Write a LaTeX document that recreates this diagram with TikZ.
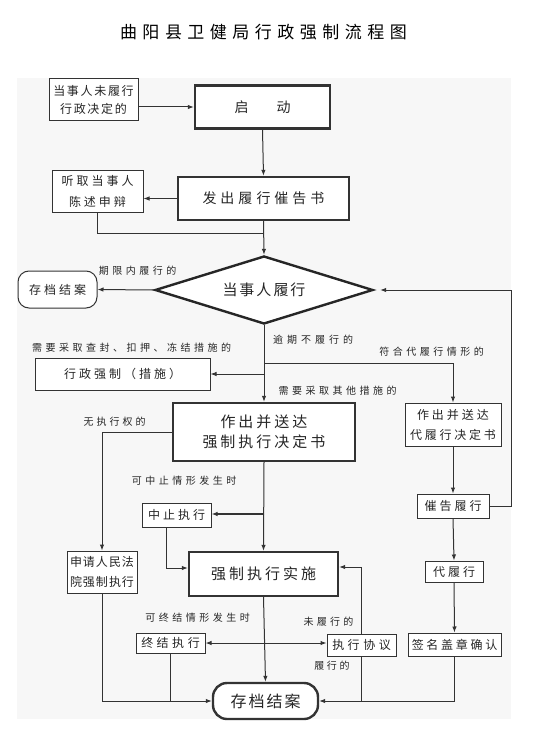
\documentclass[tikz,border=0pt]{standalone}
\usepackage{fontspec}
\setmainfont{Noto Sans CJK SC}
\usetikzlibrary{arrows.meta,shapes.geometric}
\newcommand\spc[2]{\def\cjkgap{#1}\spcA#2\relax}
\def\spcA#1{#1\spcB}
\def\spcB#1{\ifx#1\relax\else\hskip\cjkgap\relax#1\expandafter\spcB\fi}
\tikzset{
  box/.style={draw=black!80, line width=1pt, inner sep=0pt, fill=white, text=black!85,
    font=\fontsize{12}{20}\selectfont, align=center},
  tbox/.style={box, line width=2.4pt, font=\fontsize{15}{20}\selectfont},
  lbl/.style={text=black!85, font=\fontsize{10}{12}\selectfont, inner sep=0pt},
  arr/.style={draw=black!80, line width=1pt, -{Latex[length=6pt,width=4.5pt]}},
  arrtwo/.style={draw=black!80, line width=1pt, {Latex[length=6pt,width=4.5pt]}-{Latex[length=6pt,width=4.5pt]}},
  ln/.style={draw=black!80, line width=1pt},
}
\begin{document}
\begin{tikzpicture}[x=1pt,y=-1pt]
\useasboundingbox (0,0) rectangle (556,741);
\fill[white] (0,0) rectangle (556,741);
\fill[black!3] (17,78) rectangle (511,719);

\node[font=\fontsize{17}{20}\selectfont, text=black] (title) at (263.5,32) {\spc{5.5pt}{曲阳县卫健局行政强制流程图}};

% nodes
\node[box, minimum width=89pt, minimum height=42pt, font=\fontsize{12}{18}\selectfont] (b1) at (93.5,100)
  {\spc{1.7pt}{当事人未履行}\\\spc{1.7pt}{行政决定的}};
\node[tbox, minimum width=135pt, minimum height=43pt, font=\fontsize{14}{20}\selectfont] (start) at (262.5,107) {启\hspace{28pt}动};
\node[tbox, minimum width=171pt, minimum height=43pt, font=\fontsize{14}{20}\selectfont] (warn) at (263.5,198.5) {\spc{4pt}{发出履行催告书}};
\node[box, minimum width=91pt, minimum height=42pt, font=\fontsize{12}{21}\selectfont] (hear) at (97.5,191)
  {\spc{3pt}{听取当事人}\\\spc{3pt}{陈述申辩}};
\node[draw=black!85, line width=2.4pt, diamond, shape aspect=3.2, minimum width=218pt, minimum height=68pt,
  inner sep=0pt, fill=white, text=black!85, font=\fontsize{15}{20}\selectfont] (dia) at (264,290) {\spc{2pt}{当事人履行}};
\node[box, rounded corners=11pt, minimum width=79pt, minimum height=37pt] (arch1) at (57.5,289.5) {\spc{3pt}{存档结案}};
\node[box, minimum width=175pt, minimum height=32pt] (measure) at (122.5,374) {\spc{3pt}{行政强制（措施）}};
\node[tbox, minimum width=182pt, minimum height=58pt] (decide) at (264,432)
  {\spc{3pt}{作出并送达}\\\spc{3pt}{强制执行决定书}};
\node[box, minimum width=96pt, minimum height=43pt] (subst) at (453,424.5)
  {\spc{3pt}{作出并送达}\\\spc{2.8pt}{代履行决定书}};
\node[box, minimum width=72pt, minimum height=24pt] (urge) at (453,506) {\spc{3pt}{催告履行}};
\node[box, minimum width=58pt, minimum height=21pt] (dai) at (454,571.5) {\spc{3pt}{代履行}};
\node[box, minimum width=93pt, minimum height=23pt] (sign) at (454.5,644.5) {\spc{2.7pt}{签名盖章确认}};
\node[box, minimum width=70pt, minimum height=42pt] (court) at (102,572)
  {\spc{1pt}{申请人民法}\\\spc{1pt}{院强制执行}};
\node[box, minimum width=69pt, minimum height=24pt] (suspend) at (176.5,515) {\spc{3pt}{中止执行}};
\node[tbox, minimum width=149pt, minimum height=44pt] (impl) at (263.5,574) {\spc{3pt}{强制执行实施}};
\node[box, minimum width=69pt, minimum height=20pt] (term) at (170.5,643) {\spc{3.5pt}{终结执行}};
\node[box, minimum width=69pt, minimum height=22pt] (agree) at (361.5,645) {\spc{3.5pt}{执行协议}};
\node[tbox, rounded corners=14pt, minimum width=105pt, minimum height=36pt, font=\fontsize{16}{20}\selectfont] (arch2) at (265.5,701) {\spc{2pt}{存档结案}};

% labels
\node[lbl] (l1) at (137.5,271) {\spc{3.5pt}{期限内履行的}};
\node[lbl] (l2) at (313,340) {\spc{4pt}{逾期不履行的}};
\node[lbl] (l3) at (431.5,352) {\spc{3.5pt}{符合代履行情形的}};
\node[lbl] (l4) at (131.5,348) {\spc{3.5pt}{需要采取查封、扣押、冻结措施的}};
\node[lbl] (l5) at (337.5,391) {\spc{3.5pt}{需要采取其他措施的}};
\node[lbl] (l6) at (114.5,422) {\spc{3pt}{无执行权的}};
\node[lbl] (l7) at (184,481) {\spc{3.5pt}{可中止情形发生时}};
\node[lbl] (l8) at (197.5,618) {\spc{3.5pt}{可终结情形发生时}};
\node[lbl] (l9) at (328.5,622) {\spc{3.3pt}{未履行的}};
\node[lbl] (l10) at (332,666) {\spc{2.7pt}{履行的}};

% helper coordinates
\coordinate (j1) at (263.5,233);
\coordinate (br1) at (264,363);
\coordinate (br2) at (264,374);
\coordinate (br3) at (264,514);
\coordinate (fb1) at (511,506);
\coordinate (fb2) at (511,290);

% connectors
\draw[arr] (b1.east |- start.west) -- (start.west);
\draw[arr] (start.south) -- (warn.north);
\draw[arr] (warn.west) -- (warn.west -| hear.east);
\draw[ln] (hear.south) |- (j1);
\draw[arr] (warn.south) -- (dia.north);
\draw[arr] (dia.west) -- (arch1.east);
\draw[ln] (urge.east) -- (fb1) -- (fb2);
\draw[arr, shorten >=6pt] (fb2) -- (dia.east);
\draw[arr] (dia.south) -- (decide.north);
\draw[arr] (br1) -| (subst.north);
\draw[arr] (br2) -- (br2 -| measure.east);
\draw[arr] (decide.west) -| (court.north);
\draw[arr] (decide.south) -- (impl.north);
\draw[arr, line width=1.6pt] (br3) -- (br3 -| suspend.east);
\draw[arr] ([xshift=-10pt]suspend.south) |- ([yshift=6pt]impl.west);
\draw[arr] (agree.north) |- ([yshift=7pt]impl.east);
\draw[arrtwo] (term.east) -- (term.east -| agree.west);
\draw[arr] (impl.south) -- (arch2.north);
\draw[arr] (court.south) |- (arch2.west);
\draw[ln] (term.south) -- (term.south |- arch2.west);
\draw[arr] (sign.south) |- (arch2.east);
\draw[ln] (agree.south) -- (agree.south |- arch2.east);
\draw[arr] (subst.south) -- (urge.north);
\draw[arr] (urge.south) -- (dai.north);
\draw[arr] (dai.south) -- (sign.north);
\end{tikzpicture}
\end{document}
